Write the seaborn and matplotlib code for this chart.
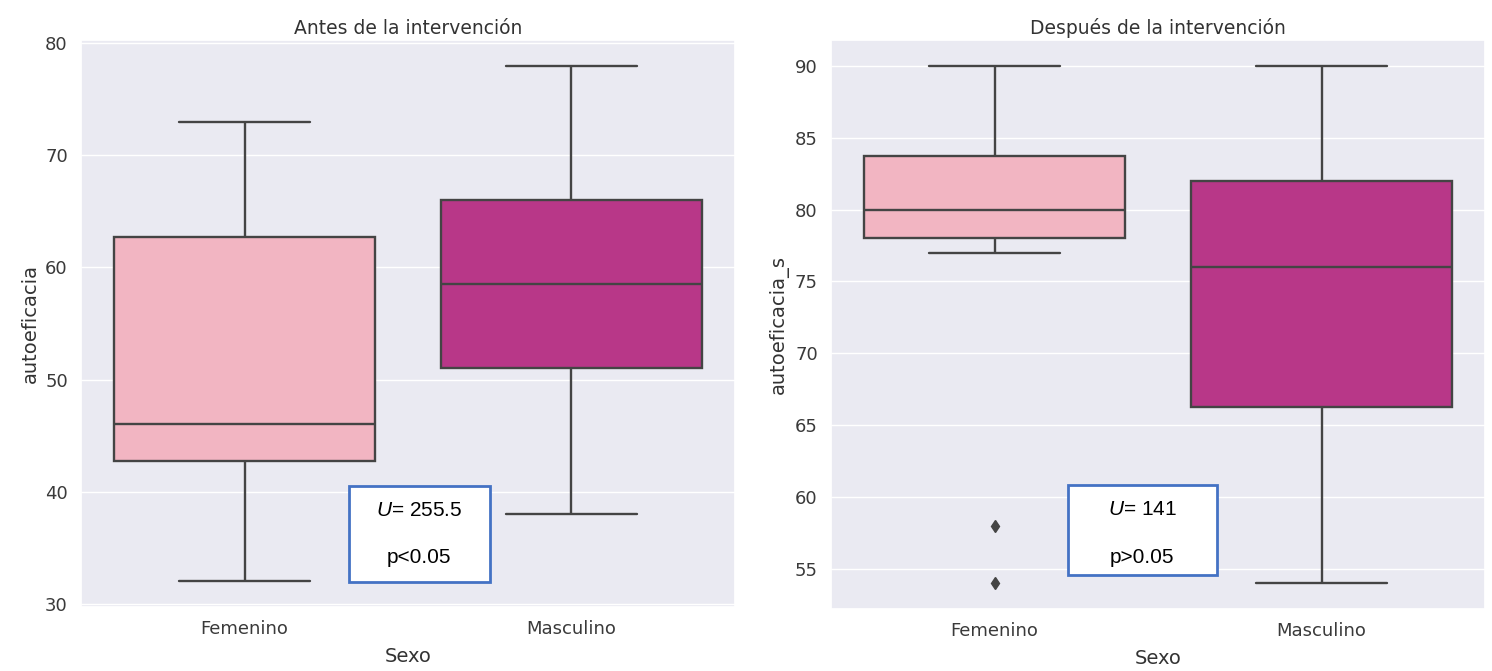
import matplotlib
matplotlib.use("Agg")
import matplotlib.pyplot as plt
import matplotlib.patches as mpatches
import pandas as pd
import seaborn as sns

SEXO = ["Femenino", "Masculino"]
COLORS = ["#F2B5C2", "#B83788"]

# autoeficacia before the intervention
antes_fem = [32, 36, 40, 42, 43, 44, 45, 46, 46, 50, 55, 62, 65, 68, 70, 73]
antes_masc = [38, 42, 45, 48, 51, 51, 53, 56, 58, 59, 61, 64, 66, 66, 69, 72, 75, 78]

# autoeficacia after the intervention
despues_fem = [54, 58, 77, 78, 78, 79, 79, 80, 80, 81, 82, 83, 86, 88, 90, 90]
despues_masc = [54, 58, 61, 64, 66, 67, 70, 74, 76, 76, 78, 80, 82, 82, 85, 87, 88, 90]

STATS = [("255.5", "p<0.05"), ("141", "p>0.05")]


def make_df(fem, masc, col):
    return pd.DataFrame({
        "Sexo": [SEXO[0]] * len(fem) + [SEXO[1]] * len(masc),
        col: fem + masc,
    })


def stat_box(ax, x0, x1, y0, y1, ty1, ty2, u, p):
    rect = mpatches.Rectangle((x0, y0), x1 - x0, y1 - y0, transform=ax.transAxes,
                              facecolor="white", edgecolor="#4472C4", linewidth=2, zorder=5)
    ax.add_patch(rect)
    xc = (x0 + x1) / 2
    ax.text(xc, ty1, "$U$= " + u, transform=ax.transAxes, ha="center", va="center",
            fontsize=15, color="black", family="Liberation Sans", zorder=6)
    ax.text(xc, ty2, p, transform=ax.transAxes, ha="center", va="center",
            fontsize=15, color="black", family="Liberation Sans", zorder=6)


sns.set_theme(style="darkgrid")
plt.rcParams["mathtext.fontset"] = "custom"
plt.rcParams["mathtext.it"] = "Liberation Sans:italic"
plt.rcParams["mathtext.rm"] = "Liberation Sans"

fig = plt.figure(figsize=(14.92, 6.71), dpi=100)
ax1 = fig.add_axes([0.0543, 0.0954, 0.4383, 0.845])
ax2 = fig.add_axes([0.557, 0.0924, 0.4383, 0.848])

box_kw = dict(palette=COLORS, saturation=1, linecolor="#444444", linewidth=1.7, width=0.8,
              flierprops=dict(marker="d", markerfacecolor="#444444", markeredgecolor="#444444",
                              markersize=6))

df1 = make_df(antes_fem, antes_masc, "autoeficacia")
sns.boxplot(data=df1, x="Sexo", y="autoeficacia", hue="Sexo", order=SEXO, ax=ax1, **box_kw)
ax1.set_title("Antes de la intervención", fontsize=13.5, color="#333333", pad=4)

df2 = make_df(despues_fem, despues_masc, "autoeficacia_s")
sns.boxplot(data=df2, x="Sexo", y="autoeficacia_s", hue="Sexo", order=SEXO, ax=ax2, **box_kw)
ax2.set_title("Después de la intervención", fontsize=13.5, color="#333333", pad=4)

for ax in (ax1, ax2):
    ax.tick_params(labelsize=13, labelcolor="#3a3a3a")
    ax.set_xlabel("Sexo", fontsize=14, color="#333333", labelpad=6)
    ax.yaxis.label.set_size(14)
    ax.yaxis.label.set_color("#333333")
    if ax.get_legend():
        ax.get_legend().remove()

stat_box(ax1, 0.410, 0.625, 0.044, 0.213, 0.171, 0.088, *STATS[0])
stat_box(ax2, 0.362, 0.590, 0.060, 0.218, 0.174, 0.091, *STATS[1])

fig.savefig("out.png", dpi=100)
